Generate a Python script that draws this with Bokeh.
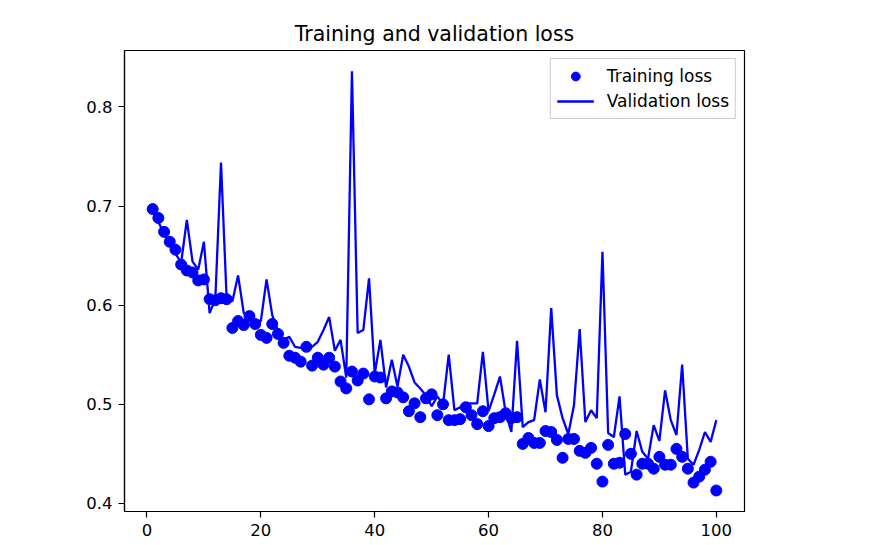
from bokeh.plotting import figure
from bokeh.models import Range1d, FixedTicker, ColumnDataSource
from bokeh.embed import file_html
from bokeh.resources import INLINE

epochs = list(range(1, 101))

training_loss = [
    0.697, 0.688, 0.674, 0.664, 0.656, 0.641, 0.635, 0.633, 0.625, 0.626,
    0.606, 0.605, 0.607, 0.606, 0.577, 0.584, 0.580, 0.589, 0.581, 0.570,
    0.567, 0.581, 0.571, 0.562, 0.549, 0.547, 0.543, 0.558, 0.539, 0.547,
    0.540, 0.547, 0.538, 0.523, 0.516, 0.533, 0.524, 0.531, 0.505, 0.528,
    0.527, 0.506, 0.513, 0.512, 0.507, 0.493, 0.501, 0.487, 0.506, 0.510,
    0.489, 0.500, 0.484, 0.484, 0.485, 0.497, 0.489, 0.480, 0.493, 0.478,
    0.486, 0.487, 0.491, 0.486, 0.487, 0.460, 0.466, 0.461, 0.461, 0.473,
    0.472, 0.464, 0.446, 0.465, 0.465, 0.453, 0.451, 0.456, 0.440, 0.422,
    0.459, 0.440, 0.441, 0.470, 0.450, 0.429, 0.440, 0.440, 0.435, 0.447,
    0.439, 0.439, 0.455, 0.447, 0.435, 0.421, 0.427, 0.434, 0.442, 0.413,
]

validation_loss = [
    0.695, 0.684, 0.672, 0.661, 0.652, 0.643, 0.686, 0.644, 0.636, 0.664,
    0.592, 0.606, 0.744, 0.605, 0.604, 0.630, 0.592, 0.588, 0.585, 0.584,
    0.626, 0.590, 0.574, 0.565, 0.568, 0.558, 0.557, 0.559, 0.558, 0.563,
    0.575, 0.588, 0.554, 0.565, 0.527, 0.836, 0.572, 0.575, 0.627, 0.531,
    0.565, 0.517, 0.545, 0.518, 0.550, 0.538, 0.522, 0.516, 0.509, 0.498,
    0.508, 0.500, 0.550, 0.494, 0.497, 0.501, 0.501, 0.501, 0.553, 0.493,
    0.510, 0.528, 0.492, 0.472, 0.564, 0.477, 0.482, 0.484, 0.525, 0.492,
    0.597, 0.509, 0.486, 0.470, 0.499, 0.576, 0.482, 0.494, 0.486, 0.654,
    0.471, 0.467, 0.508, 0.429, 0.432, 0.473, 0.452, 0.445, 0.479, 0.463,
    0.514, 0.484, 0.469, 0.540, 0.445, 0.439, 0.454, 0.472, 0.462, 0.484,
]

x_ticks = [0, 20, 40, 60, 80, 100]
y_ticks = [0.4, 0.5, 0.6, 0.7, 0.8]

FONT = "DejaVu Sans"

src = ColumnDataSource(dict(epoch=epochs, train=training_loss, val=validation_loss))

p = figure(
    frame_width=620, frame_height=461,
    x_range=Range1d(-3.95, 104.95), y_range=Range1d(0.3918, 0.857),
    output_backend="svg", toolbar_location=None,
    title="Training and validation loss",
    min_border_left=124, min_border_top=50, min_border_bottom=30, min_border_right=20,
    background_fill_color="white", border_fill_color="white",
)

p.scatter("epoch", "train", source=src, size=11, color="#0000ff", marker="circle",
          legend_label="Training loss")
p.line("epoch", "val", source=src, line_width=2.3, color="#0000ff",
       legend_label="Validation loss")

p.grid.visible = False
p.outline_line_color = "black"
p.outline_line_width = 1.2
p.outline_line_alpha = 1

p.xaxis.ticker = FixedTicker(ticks=x_ticks)
p.yaxis.ticker = FixedTicker(ticks=y_ticks)
for ax in (p.xaxis, p.yaxis):
    ax.axis_line_color = "black"
    ax.axis_line_width = 1.2
    ax.major_tick_line_color = "black"
    ax.major_tick_line_width = 1.2
    ax.major_tick_out = 6
    ax.major_tick_in = 0
    ax.minor_tick_line_color = None
    ax.major_label_text_font = FONT
    ax.major_label_text_font_size = "16.5px"
    ax.major_label_text_color = "black"
    ax.major_label_standoff = 6

p.title.text_font = FONT
p.title.text_font_size = "20.5px"
p.title.text_font_style = "normal"
p.title.align = "center"
p.title.text_color = "black"
p.title.standoff = 9

lg = p.legend[0]
lg.location = "top_right"
lg.margin = 8
lg.padding = 6
lg.spacing = 3
lg.label_height = 22
lg.glyph_height = 22
lg.glyph_width = 37
lg.label_standoff = 13
lg.border_line_color = "#cccccc"
lg.border_line_alpha = 1
lg.label_text_font = FONT
lg.label_text_font_size = "17px"
lg.label_text_color = "black"

open("out.html", "w").write(file_html(p, INLINE))
